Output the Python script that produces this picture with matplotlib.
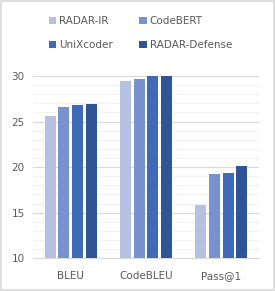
import matplotlib
matplotlib.use("Agg")
import matplotlib.pyplot as plt
import numpy as np
from matplotlib.patches import Rectangle

categories = ["BLEU", "CodeBLEU", "Pass@1"]
series_names = ["RADAR-IR", "CodeBERT", "UniXcoder", "RADAR-Defense"]
radar_ir = [25.6, 29.4, 15.8]
codebert = [26.6, 29.7, 19.3]
unixcoder = [26.8, 30.2, 19.4]
radar_defense = [26.9, 30.3, 20.1]
yticks = [10, 15, 20, 25, 30]

colors = ["#B4C1E1", "#7891CF", "#3E6AB8", "#2F5597"]
series = [radar_ir, codebert, unixcoder, radar_defense]

fig = plt.figure(figsize=(2.75, 2.91), dpi=100)
ax = fig.add_axes([33/275, 1 - 258.3/291, 226/275, (258.3-76)/291])

x = np.arange(len(categories))
step = 0.182
width = 0.145
handles = []
for i, (vals, c, name) in enumerate(zip(series, colors, series_names)):
    h = ax.bar(x + (i - 1.5) * step, vals, width, color=c, label=name, zorder=3)
    handles.append(h)

ax.set_ylim(10, 30)
ax.set_xlim(-0.5, 2.5)
ax.set_yticks(yticks)
ax.set_yticks(np.arange(10, 31, 1), minor=True)
ax.yaxis.grid(True, which="major", color="#D9D9D9", linewidth=0.8, zorder=0)
ax.yaxis.grid(True, which="minor", color="#F2F2F2", linewidth=0.8, zorder=0)
ax.set_xticks(x)
ax.set_xticklabels(categories)
for s in ax.spines.values():
    s.set_visible(False)
ax.spines["bottom"].set_visible(True)
ax.spines["bottom"].set_color("#D9D9D9")
ax.tick_params(axis="both", which="both", length=0, labelsize=7.5, colors="#595959")
ax.tick_params(axis="x", pad=9)
ax.tick_params(axis="y", pad=6)

order = [0, 2, 1, 3]
leg = fig.legend([handles[i] for i in order], [series_names[i] for i in order],
                 loc="upper center", bbox_to_anchor=(0.5 + 3/275, 1 - 7/291), ncol=2,
                 frameon=False, fontsize=7.5, handlelength=0.7, handleheight=0.7,
                 handletextpad=0.3, columnspacing=2.5, labelspacing=1.3)
for t in leg.get_texts():
    t.set_color("#595959")

fig.patches.append(Rectangle((0.002, 0.004), 0.994, 0.994, transform=fig.transFigure,
                             fill=False, edgecolor="#D9D9D9", linewidth=1.2))
fig.savefig("out.png", dpi=100)
